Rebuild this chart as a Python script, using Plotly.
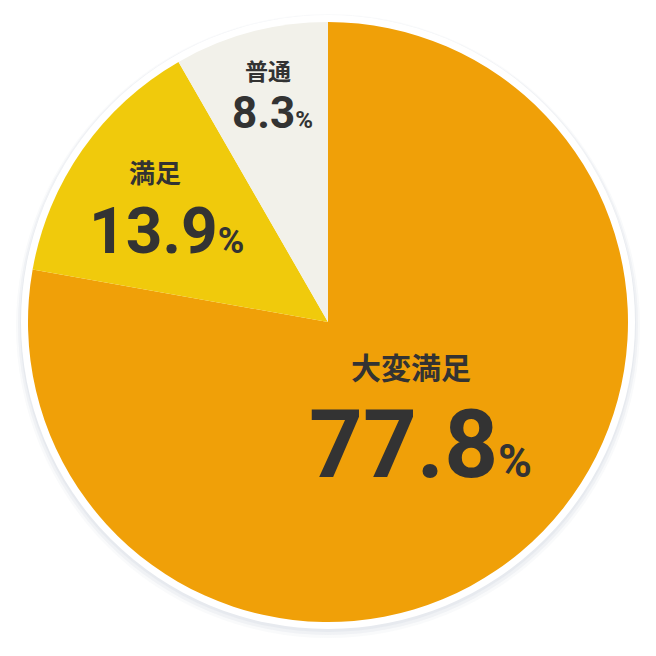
"""Satisfaction pie chart."""
import plotly.graph_objects as go

labels = ["大変満足", "満足", "普通"]
values = [77.8, 13.9, 8.3]
colors = ["#F0A008", "#F0CA0C", "#F2F1EA"]

W = 656
OFF = 8  # page body margin shifts the figure
CX, CY, R = 328 - OFF, 322 - OFF, 300


def px_x(x):
    return x / W


def px_y(y):
    return 1 - y / W


fig = go.Figure()
fig.add_trace(
    go.Pie(
        labels=labels,
        values=values,
        sort=False,
        direction="clockwise",
        rotation=0,
        marker=dict(colors=colors, line=dict(width=0)),
        textinfo="none",
        hoverinfo="skip",
        showlegend=False,
        domain=dict(
            x=[px_x(CX - R), px_x(CX + R)],
            y=[px_y(CY + R), px_y(CY - R)],
        ),
    )
)

# soft shadow + white rim behind the pie
shapes = []
for dr, dy, col in [(12, 4, "rgba(205,212,224,0.12)"), (10, 3, "rgba(205,212,224,0.2)"),
                    (8, 2, "rgba(215,220,230,0.35)"), (7, 0, "#ffffff")]:
    shapes.append(dict(
        type="circle", xref="paper", yref="paper", layer="below",
        x0=px_x(CX - R - dr), x1=px_x(CX + R + dr),
        y0=px_y(CY + dy + R + dr), y1=px_y(CY + dy - R - dr),
        fillcolor=col, line=dict(width=0),
    ))

# text blocks: label x/y, number x/y, label size, number size, pct size (reference pixels)
text_pos = [
    (411, 366, 421, 445, 30, 94, 46),
    (155, 171, 166, 231, 26, 64, 36),
    (268, 70, 272, 113, 23, 44, 24),
]
annotations = []
for lab, val, (lx, ly, nx, ny, ls, ns, ps) in zip(labels, values, text_pos):
    annotations.append(dict(
        x=px_x(lx - OFF), y=px_y(ly - OFF), xref="paper", yref="paper", showarrow=False,
        text=f"<b>{lab}</b>", font=dict(family="Noto Sans CJK JP", size=ls, color="#333333"),
        xanchor="center", yanchor="middle",
    ))
    annotations.append(dict(
        x=px_x(nx - OFF), y=px_y(ny - OFF), xref="paper", yref="paper", showarrow=False,
        text=f"<b>{val:.1f}</b><b><span style='font-size:{ps}px'>%</span></b>",
        font=dict(family="Roboto", size=ns, color="#333333"),
        xanchor="center", yanchor="middle",
    ))

fig.update_layout(
    width=W, height=W,
    margin=dict(l=0, r=0, t=0, b=0),
    paper_bgcolor="white",
    plot_bgcolor="white",
    shapes=shapes,
    annotations=annotations,
)

fig.write_html("out.html")
